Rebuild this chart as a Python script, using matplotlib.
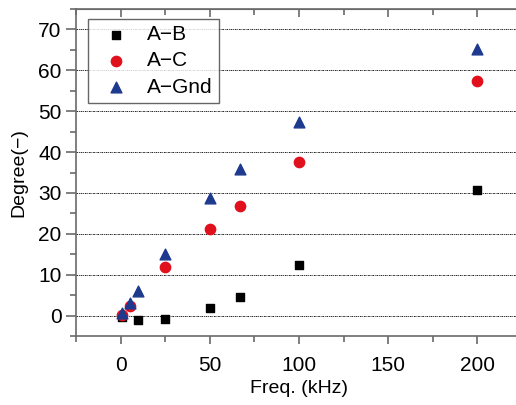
import numpy as np
import matplotlib.pyplot as plt
from matplotlib.ticker import MultipleLocator

plt.rcParams['font.family'] = ['Liberation Sans', 'Noto Sans CJK JP', 'DejaVu Sans']

# measured degree vs frequency
freq_ab = [1, 10, 25, 50, 66.7, 100, 200]
deg_ab = [-0.4, -1.1, -0.7, 1.8, 4.5, 12.5, 30.7]
freq_ac = [1, 5, 25, 50, 66.7, 100, 200]
deg_ac = [0.1, 2.4, 11.9, 21.3, 26.8, 37.6, 57.4]
freq_gnd = [1, 5, 10, 25, 50, 66.7, 100, 200]
deg_gnd = [0.6, 3.2, 6.1, 15.2, 28.7, 35.9, 47.3, 65.3]

fig = plt.figure(figsize=(5.16, 4.05), dpi=100)
ax = fig.add_axes([0.1473, 0.170, 0.864, 0.808])

ax.scatter(freq_ab, deg_ab, marker='s', s=32, color='black', label='A−B', zorder=3)
ax.scatter(freq_ac, deg_ac, marker='o', s=55, color='#e0101c', label='A−C', zorder=3)
ax.scatter(freq_gnd, deg_gnd, marker='^', s=60, color='#1d3a8f', label='A−Gnd', zorder=4)

ax.set_xlim(-25, 225)
ax.set_ylim(-5, 75)
ax.xaxis.set_major_locator(MultipleLocator(50))
ax.xaxis.set_minor_locator(MultipleLocator(25))
ax.yaxis.set_major_locator(MultipleLocator(10))
ax.yaxis.set_minor_locator(MultipleLocator(5))
ax.set_yticks(np.arange(0, 71, 10))

for y in range(0, 71, 10):
    ax.axhline(y, color='black', lw=0.6, ls=(0, (2, 1, 1, 1)), zorder=1)

for s in ax.spines.values():
    s.set_color('#6a6a6a')
    s.set_linewidth(1.2)

ax.tick_params(axis='x', which='both', direction='out', bottom=True, top=False,
               labelsize=15, color='#6a6a6a', width=1.2, pad=8)
ax.tick_params(axis='x', which='major', length=6)
ax.tick_params(axis='x', which='minor', length=4)
ax.tick_params(axis='y', which='both', direction='out', left=True, right=True,
               labelsize=15, color='#6a6a6a', width=1.2)
ax.tick_params(axis='y', which='major', length=7)
ax.tick_params(axis='y', which='minor', length=4)

# top ticks pointing inward
top = ax.secondary_xaxis('top')
top.xaxis.set_major_locator(MultipleLocator(50))
top.xaxis.set_minor_locator(MultipleLocator(25))
top.tick_params(which='both', direction='in', labeltop=False, color='#6a6a6a', width=1.2)
top.tick_params(which='major', length=6)
top.tick_params(which='minor', length=4)
top.spines['top'].set_color('#6a6a6a')

ax.set_xlabel('Freq. (kHz)', fontsize=14, labelpad=4)
ax.set_ylabel('Degree(−)', fontsize=14, labelpad=8)

leg = ax.legend(loc='upper left', bbox_to_anchor=(0.028, 0.97), fontsize=15,
                frameon=True, fancybox=False, edgecolor='#404040',
                handletextpad=0.5, borderpad=0.3, labelspacing=0.35,
                handlelength=2.0, borderaxespad=0.0, scatterpoints=1)
leg.get_frame().set_linewidth(1.0)

fig.savefig('out.png', dpi=100)
